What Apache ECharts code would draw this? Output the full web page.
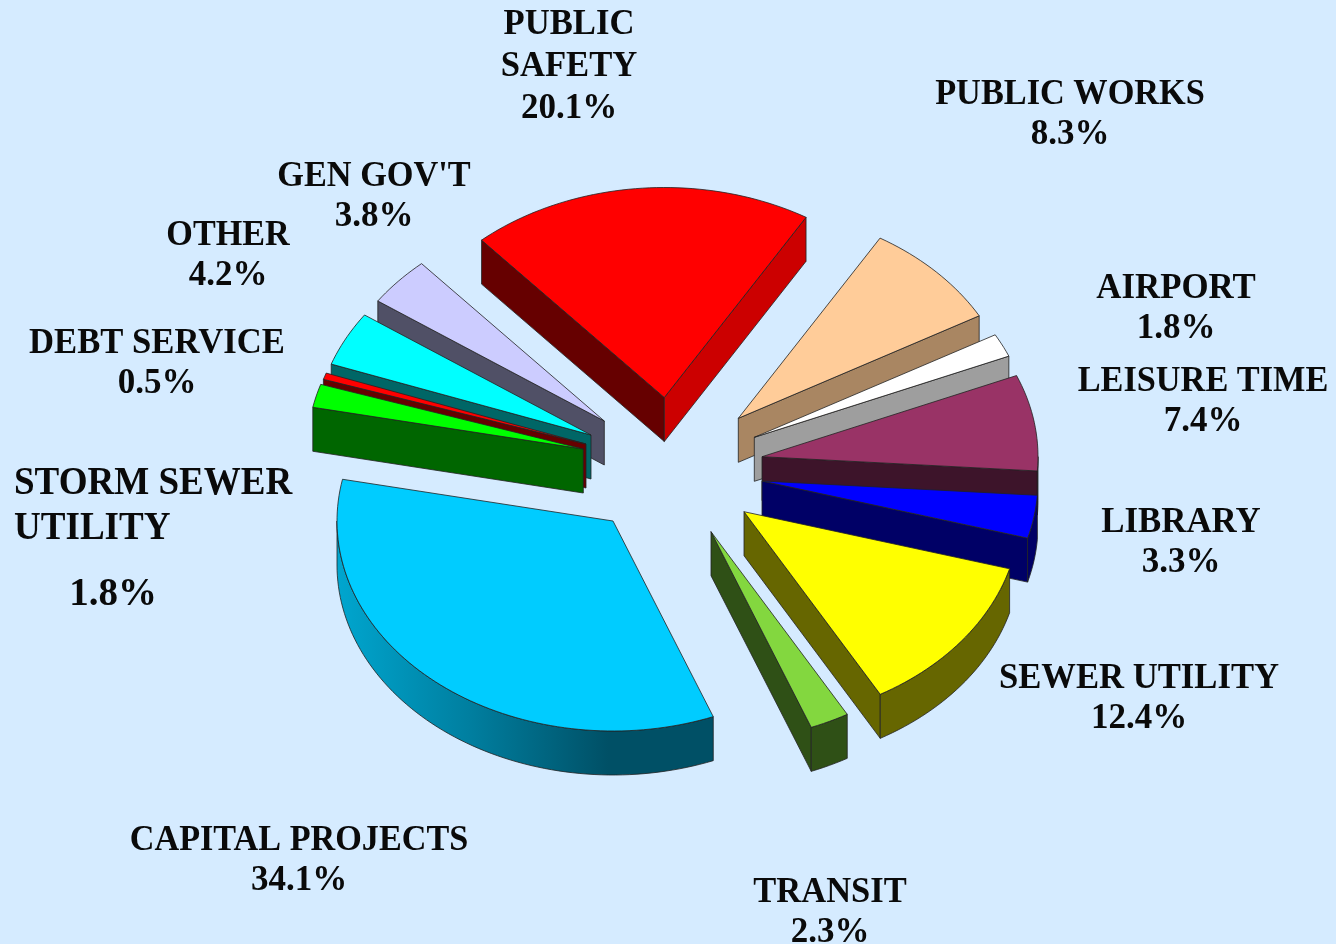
<!DOCTYPE html>
<html><head><meta charset="utf-8">
<style>html,body{margin:0;padding:0;background:#D5EBFF}#c{width:1336px;height:944px}</style>
<script src="https://cdn.jsdelivr.net/npm/echarts@6/dist/echarts.min.js"></script>
</head><body><div id="c"></div>
<script>
// ---- data (clockwise from the top right) ----
const names = ['PUBLIC WORKS','AIRPORT','LEISURE TIME','LIBRARY','SEWER UTILITY','TRANSIT','CAPITAL PROJECTS','STORM SEWER UTILITY','DEBT SERVICE','OTHER',"GEN GOV'T",'PUBLIC SAFETY'];
const percents = [8.3,1.8,7.4,3.3,12.4,2.3,34.1,1.8,0.5,4.2,3.8,20.1];

// ---- styles ----
const topColors  = ['#FFCC99','#FFFFFF','#993366','#0000FF','#FFFF00','#83D73F','#00CCFF','#00FF00','#FF0000','#00FFFF','#CCCCFF','#FF0000'];
const sideColors = ['#A98662','#9E9E9E','#3D142A','#000066','#666600','#2F5016','#005066','#006600','#660000','#006666','#505066','#660000'];
const endFaceColors = {11:'#CC0000'};

// ---- layout ----
const centre = [667.6,469], rx = 276, ry = 210, depth = 44, startDeg = -59.1;
// how far each slice is pulled out of the pie, in pixels
const explode = [[70.7,-50.7],[86.7,-31.7],[94.4,-12.3],[94.4,12],[76.4,42.7],[43.4,62.7],[-54.6,52],[-84.3,-20],[-81.6,-25],[-76.6,-34],[-63.3,-48],[-3.3,-71.5]];
const paintRank = [5,6,7,8,10,9,11,4,3,2,1,0];
const labelLines = [['PUBLIC WORKS'],['AIRPORT'],['LEISURE TIME'],['LIBRARY'],['SEWER UTILITY'],['TRANSIT'],['CAPITAL PROJECTS'],['STORM SEWER','UTILITY'],['DEBT SERVICE'],['OTHER'],["GEN GOV'T"],['PUBLIC','SAFETY']];
const labelX = [1070,1176,1203,1181,1139,830,299,14,157,228,374,569];
const labelY = [95,289,382,523,679,893,841,484,344,236,177,25];
const labelSqueeze = [0.98,0.995,0.98,0.995,0.99,0.985,0.977,0.95,0.99,0.976,0.98,0.99];
const labelFont = 35, lineStep = 42, pctStep = 40;
const stormLineStep = 45, stormFont = 39, stormPctX = 113, stormPctY = 595, stormIndex = 7;

const total = percents.reduce((a,b)=>a+b,0);
const starts = [];
percents.reduce((acc,v,i)=>{starts[i]=acc;return acc+v;},0);
const toRad = d => d*Math.PI/180;
const angleOf = share => startDeg + share/total*360;

function renderItem(params, api){
  const i = api.value(0), v = api.value(1);
  const a0 = angleOf(starts[i]), a1 = a0 + v/total*360;
  const ax = centre[0]+explode[i][0], ay = centre[1]+explode[i][1];
  const pt = (deg,drop)=>[ax+rx*Math.cos(toRad(deg)), ay+ry*Math.sin(toRad(deg))+(drop||0)];
  const apex = [ax,ay], apexLow=[ax,ay+depth];
  const arc = (from,to,drop)=>{const n=Math.max(2,Math.ceil(Math.abs(to-from)/1.5));const out=[];for(let k=0;k<=n;k++)out.push(pt(from+(to-from)*k/n,drop));return out;};
  const z = paintRank[i]*5;
  const edge = '#222';
  const children = [];
  const face = (points,fill,zz,lw)=>children.push({type:'polygon',z2:z+zz,shape:{points},style:{fill,stroke:edge,lineWidth:lw||0.8}});
  const A = pt(a0), B = pt(a1);
  // cut faces that look towards the viewer
  if (A[0] < ax) face([apex,A,pt(a0,depth),apexLow], sideColors[i], 1);
  if (B[0] > ax) face([B,apex,apexLow,pt(a1,depth)], endFaceColors[i]||sideColors[i], 1);
  // outer rim: only the front half of the ellipse (0..180 degrees) shows
  const cand = [[a0,a1],[a0+360,a1+360]];
  cand.forEach(([f,t])=>{
    const lo=Math.max(f,0), hi=Math.min(t,180);
    if(hi>lo){
      const up=arc(lo,hi,0), down=arc(hi,lo,depth);
      const fill = i===6 ? {type:'linear',x:0,y:0,x2:1,y2:0,colorStops:[{offset:0,color:'#00A6CF'},{offset:0.35,color:'#007FA0'},{offset:0.72,color:'#005066'},{offset:1,color:'#005066'}]} : sideColors[i];
      face(up.concat(down),fill,2);
    }
  });
  // top surface
  face([apex].concat(arc(a0,a1,0)), topColors[i], 3);
  // labels
  const lines = labelLines[i], pct = v.toFixed(1)+'%';
  const txt=(text,x,y,size,align,sx)=>children.push({type:'text',z2:500,x,y,scaleX:sx||1,style:{text,x:0,y:0,align:align||'center',verticalAlign:'middle',fill:'#0a0a0a',font:'bold '+size+'px "Liberation Serif", serif'}});
  if(i===stormIndex){
    lines.forEach((t,k)=>txt(t,labelX[i],labelY[i]+k*stormLineStep,stormFont,'left',labelSqueeze[i]));
    txt(pct,stormPctX,stormPctY,stormFont);
  }else{
    lines.forEach((t,k)=>txt(t,labelX[i],labelY[i]+k*lineStep,labelFont,'center',labelSqueeze[i]));
    txt(pct,labelX[i],labelY[i]+(lines.length-1)*lineStep+(lines.length>1?lineStep:pctStep),labelFont);
  }
  return {type:'group',children};
}

const chart = echarts.init(document.getElementById('c'),null,{renderer:'canvas'});
chart.setOption({
  backgroundColor:'#D5EBFF',
  animation:false,
  series:[{type:'custom',coordinateSystem:'none',silent:true,clip:false,renderItem,
    data:percents.map((v,i)=>({name:names[i],value:[i,v]}))}]
});
</script></body></html>
